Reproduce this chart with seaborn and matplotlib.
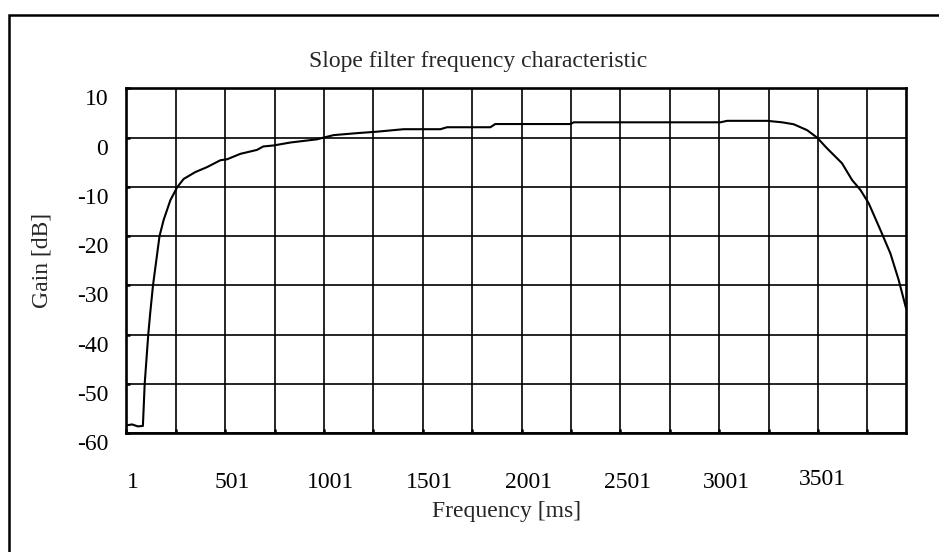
import matplotlib
matplotlib.use('Agg')
import matplotlib.pyplot as plt
from matplotlib.patches import Rectangle
from matplotlib.transforms import ScaledTranslation
from matplotlib.ticker import FixedLocator
import seaborn as sns
import pandas as pd

### Data ###
freq = [1, 30, 60, 85, 94, 112, 122, 136, 169, 190, 224, 258, 291, 350, 409,
        477, 511, 578, 662, 694, 746, 831, 966, 999, 1050, 1168, 1270, 1404,
        1590, 1624, 1843, 1868, 2248, 2265, 3007, 3041, 3243, 3319, 3378, 3446,
        3496, 3547, 3622, 3673, 3715, 3757, 3816, 3867, 3909, 3946]
gain = [-58.4, -58.2, -58.6, -58.5, -50, -40, -35.6, -30, -20, -16.7, -12.7,
        -10.1, -8.4, -7.0, -6.0, -4.6, -4.4, -3.3, -2.5, -1.8, -1.6, -1.0,
        -0.35, 0, 0.5, 0.9, 1.2, 1.7, 1.7, 2.1, 2.1, 2.75, 2.75, 3.1, 3.1, 3.4,
        3.4, 3.1, 2.7, 1.5, 0, -2.2, -5.2, -8.6, -10.6, -13.3, -18.7, -23.5,
        -28.9, -34.6]
x_labels = ['1', '501', '1001', '1501', '2001', '2501', '3001', '3501']
x_label_pos = [1, 501, 1001, 1501, 2001, 2501, 3001, 3501]
x_grid_minor = [251, 751, 1251, 1751, 2251, 2751, 3251, 3751]
y_ticks = [10, 0, -10, -20, -30, -40, -50, -60]

df = pd.DataFrame({'freq': freq, 'gain': gain})

sns.set_theme(style='white')
plt.rcParams['font.family'] = ['Liberation Serif', 'DejaVu Serif']
FS = 17

fig = plt.figure(figsize=(9.39, 5.52), dpi=100)
ax = fig.add_axes([126.3 / 939, 1 - 433.3 / 552, 779.7 / 939, 345 / 552])

sns.lineplot(data=df, x='freq', y='gain', ax=ax, color='black', linewidth=1.5)

ax.set_xlim(1, 3946)
ax.set_ylim(-60, 10)

# grid
ax.xaxis.set_major_locator(FixedLocator(x_label_pos))
ax.xaxis.set_minor_locator(FixedLocator(x_grid_minor))
ax.set_xticklabels(x_labels)
ax.set_yticks(y_ticks)
ax.set_yticklabels([str(v) for v in y_ticks])
ax.grid(True, which='both', axis='x', color='black', linewidth=1.2)
ax.grid(True, which='major', axis='y', color='black', linewidth=1.2)
for s in ax.spines.values():
    s.set_color('black')
    s.set_linewidth(1.9)

ax.tick_params(axis='both', which='both', direction='in', length=3, width=1.8,
               color='black', labelsize=FS, labelcolor='black')
ax.tick_params(axis='x', which='major', pad=28)
ax.tick_params(axis='y', which='major', pad=13)
ax.tick_params(left=True, bottom=True)
ax.tick_params(axis='x', which='minor', bottom=True)

# labels sit a bit off their grid lines, like the original
for lab in ax.get_xticklabels():
    lab.set_transform(lab.get_transform() + ScaledTranslation(0.07, 0, fig.dpi_scale_trans))
for lab in ax.get_yticklabels():
    lab.set_transform(lab.get_transform() + ScaledTranslation(0, -0.09, fig.dpi_scale_trans))
last = ax.get_xticklabels()[-1]
last.set_transform(last.get_transform() + ScaledTranslation(-0.03, 0.03, fig.dpi_scale_trans))

ax.set_title('Slope filter frequency characteristic', fontsize=FS, x=0.451, pad=15.3)
ax.set_xlabel('Frequency [ms]', fontsize=FS, va='center')
ax.xaxis.set_label_coords(0.488, -0.228)
ax.set_ylabel('Gain [dB]', fontsize=FS, va='center', ha='center')
ax.yaxis.set_label_coords(-0.108, 0.5)

# outer frame (only left and top edges fall inside the picture)
fig.add_artist(Rectangle((8.7 / 939, -0.1), 1.2, 1.1 - 14.7 / 552,
                         transform=fig.transFigure, fill=False,
                         edgecolor='black', linewidth=1.8))

plt.savefig('out.png', dpi=100)
plt.close()
